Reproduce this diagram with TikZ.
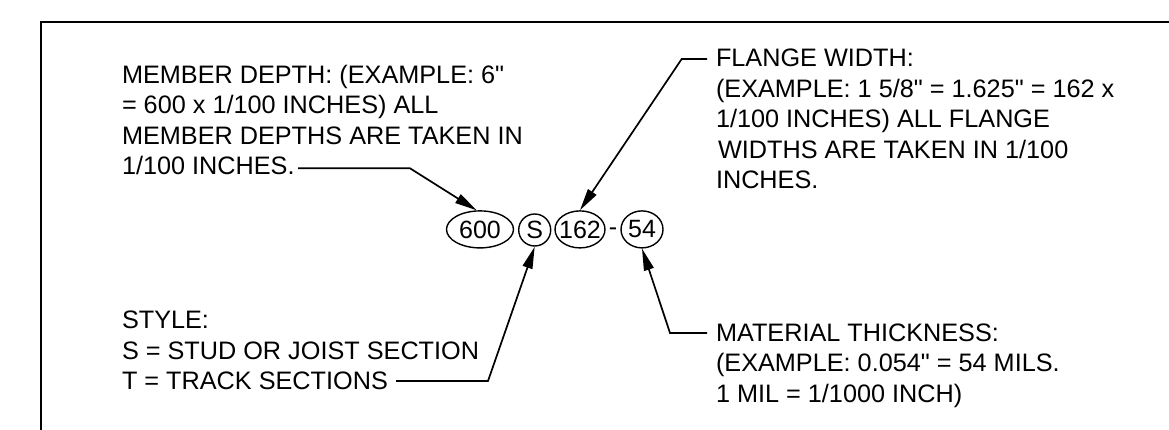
\documentclass[tikz,border=0pt]{standalone}
\usepackage{fontspec}
\setmainfont{Liberation Sans}[Ligatures=TeXOff]
\usetikzlibrary{arrows.meta,shapes.geometric}
\tikzset{
  lbl/.style={inner sep=0pt,outer sep=0pt,anchor=base west,align=left,font=\fontsize{25.25}{30.5}\selectfont},
  bubble/.style={draw=black,line width=1.4pt,ellipse,inner sep=0pt,minimum height=37pt,font=\fontsize{25}{25}\selectfont},
  lead/.style={draw=black,line width=1.7pt,-{Triangle[length=22pt,width=10pt]}},
}
\begin{document}
\begin{tikzpicture}[x=1pt,y=-1pt]
\useasboundingbox (0,0) rectangle (1169,430);
\fill[white] (0,0) rectangle (1169,430);
\coordinate (fa) at (1169,22.5);
\coordinate (fb) at (40.5,22.5);
\coordinate (fc) at (40.5,430);
\draw[line width=2pt] (fa) -- (fb) -- (fc);
\node[bubble,minimum width=67pt] (n600) at (480,229.4) {600};
\node[bubble,minimum width=32pt,minimum height=32pt] (nS) at (534.7,230) {S};
\node[bubble,minimum width=50pt] (n162) at (580,229.4) {\makebox[0pt]{162}};
\node[inner sep=0pt,font=\fontsize{25}{25}\selectfont] (dash) at (613,232) {-};
\node[bubble,minimum width=42pt] (n54) at (642,229.4) {54};
\node[lbl] (depth) at (122,175) {MEMBER DEPTH: (EXAMPLE: 6"\\= 600 x 1/100 INCHES) ALL\\MEMBER DEPTHS ARE TAKEN IN\\1/100 INCHES.};
\node[lbl] (flange) at (716,188.7) {FLANGE WIDTH:\\(EXAMPLE: 1 5/8" = 1.625" = 162 x\\1/100 INCHES) ALL FLANGE\\\hspace{2pt}WIDTHS ARE TAKEN IN 1/100\\INCHES.};
\node[lbl] (style) at (122,389.5) {STYLE:\\S = STUD OR JOIST SECTION\\T = TRACK SECTIONS};
\node[lbl] (thick) at (716,402) {MATERIAL THICKNESS:\\(EXAMPLE: 0.054" = 54 MILS.\\1 MIL = 1/1000 INCH)};
\coordinate (a1) at (298,168.3);
\coordinate (a2) at (410,168.3);
\coordinate (b1) at (707,59);
\coordinate (b2) at (681.7,59);
\coordinate (c1) at (396,381);
\coordinate (c2) at (488,381);
\coordinate (d1) at (707,333);
\coordinate (d2) at (670,333);
\draw[lead] (a1) -- (a2) -- (n600.100);
\draw[lead] (b1) -- (b2) -- (n162.north);
\draw[lead] (c1) -- (c2) -- (nS.south);
\draw[lead] (d1) -- (d2) -- (n54.south);
\end{tikzpicture}
\end{document}
